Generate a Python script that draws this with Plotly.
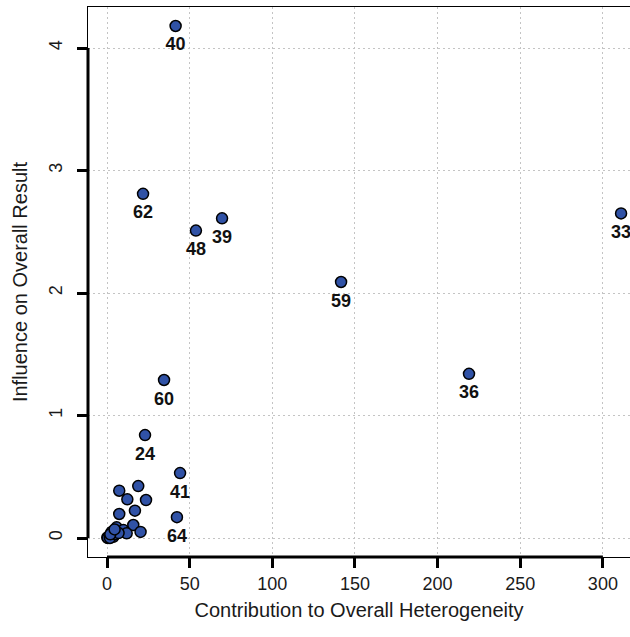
import plotly.graph_objects as go

# Labelled studies
label_ids = ["40", "62", "48", "39", "33", "59", "36", "60", "24", "41", "64"]
label_x = [41.5, 21.8, 53.8, 69.6, 311, 141.6, 219, 34.5, 23, 44.2, 42.3]
label_y = [4.18, 2.81, 2.51, 2.61, 2.65, 2.09, 1.34, 1.29, 0.84, 0.53, 0.17]

# Unlabelled cluster near the origin
cluster_x = [7.4, 18.9, 12.3, 23.6, 7.4, 16.9, 15.9, 20.3, 5.8, 2.8, 0.2, 3.8,
             9.9, 11.9, 0.5, 1.8, 5.0, 7.0, 2.0, 4.6]
cluster_y = [0.386, 0.424, 0.316, 0.31, 0.196, 0.223, 0.106, 0.05, 0.087, 0.05,
             0.005, 0.01, 0.065, 0.038, 0.0, 0.0, 0.03, 0.04, 0.03, 0.07]

x_ticks = [0, 50, 100, 150, 200, 250, 300]
y_ticks = [0, 1, 2, 3, 4]
x_title = "Contribution to Overall Heterogeneity"
y_title = "Influence on Overall Result"

FONT = "Liberation Sans, Arial, sans-serif"
fill = "#3052A6"
txt = "#1a1a1a"

fig = go.Figure()
fig.add_trace(go.Scatter(
    x=cluster_x, y=cluster_y, mode="markers",
    marker=dict(size=11, color=fill, line=dict(color="black", width=1.5)),
    hoverinfo="skip", showlegend=False))
# labels (invisible, slightly larger marker to push text a bit further below)
fig.add_trace(go.Scatter(
    x=label_x, y=label_y, mode="markers+text", text=label_ids,
    textposition="bottom center",
    textfont=dict(family=FONT, size=18, color="#111111", weight="bold"),
    marker=dict(size=16, color="rgba(0,0,0,0)"),
    hoverinfo="skip", cliponaxis=False, showlegend=False))
fig.add_trace(go.Scatter(
    x=label_x, y=label_y, mode="markers",
    marker=dict(size=11, color=fill, line=dict(color="black", width=1.5)),
    text=label_ids, cliponaxis=False, showlegend=False))

# thick R-style axis segments spanning first to last tick
fig.add_shape(type="line", xref="x", yref="paper", x0=x_ticks[0], x1=x_ticks[-1],
              y0=0, y1=0, line=dict(color="black", width=3))
fig.add_shape(type="line", xref="paper", yref="y", x0=0, x1=0,
              y0=y_ticks[0], y1=y_ticks[-1], line=dict(color="black", width=3))

grid = dict(showgrid=True, gridcolor="#c4c4c4", griddash="2px,3px", gridwidth=1)

fig.update_layout(
    width=630, height=637,
    margin=dict(l=88, r=0, t=7, b=80),
    paper_bgcolor="white", plot_bgcolor="white",
    font=dict(family=FONT, size=18, color=txt),
    xaxis=dict(range=[-11.5, 316.4], tickvals=x_ticks, ticktext=[str(v) for v in x_ticks],
               zeroline=False, showline=True, linecolor="black", linewidth=1, mirror=True,
               ticks="outside", ticklen=10, tickwidth=3, tickcolor="black",
               tickfont=dict(size=18, color=txt),
               title=dict(text=x_title, font=dict(size=20, color=txt), standoff=10), **grid),
    yaxis=dict(range=[-0.155, 4.335], tickvals=y_ticks, ticktext=[str(v) for v in y_ticks],
               zeroline=False, showline=True, linecolor="black", linewidth=1,
               ticks="outside", ticklen=10, tickwidth=3, tickcolor="black", tickangle=-90,
               ticklabelstandoff=8,
               tickfont=dict(size=18, color=txt),
               title=dict(text=y_title, font=dict(size=20, color=txt), standoff=12), **grid),
)

fig.write_html("out.html", config={"displayModeBar": False},
               post_script="document.body.style.margin='0';document.body.style.overflow='hidden';")
